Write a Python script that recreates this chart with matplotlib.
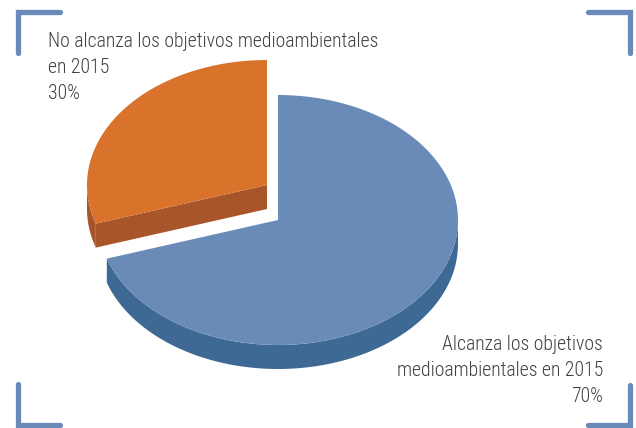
import numpy as np
import matplotlib
matplotlib.use("Agg")
import matplotlib.pyplot as plt

# data
labels = ["Alcanza los objetivos\nmedioambientales en 2015",
          "No alcanza los objetivos medioambientales\nen 2015"]
values = [70, 30]
top_colors = ["#6A8BB7", "#D9732B"]
side_colors = ["#3E6994", "#A9552A"]

# geometry of the fake 3d pie (pixel units)
cx, cy = 278, 220
rx, ry = 180, 125
depth = 24
explode = [(0, 0), (-11, -35)]
start = 90

W, H = 636, 428
fig = plt.figure(figsize=(W / 100, H / 100), dpi=100)
ax = fig.add_axes([0, 0, 1, 1])
ax.set_xlim(0, W)
ax.set_ylim(H, 0)
ax.axis("off")


def rim(a0, a1, ox, oy, n=120, dz=0):
    t = np.radians(np.linspace(a0, a1, n))
    return cx + ox + rx * np.cos(t), cy + oy - ry * np.sin(t) + dz


# slice angle ranges (clockwise from 12 o'clock)
total = float(sum(values))
ranges = []
a = start
for v in values:
    span = 360 * v / total
    ranges.append((a - span, a))
    a -= span

# draw the exploded (back) slice first
for i in [1, 0]:
    lo, hi = ranges[i]
    ox, oy = explode[i]
    # radial faces that look towards the viewer
    for ang, nrm in [(lo, lo - 90), (hi, hi + 90)]:
        if np.sin(np.radians(nrm)) < -1e-6:
            px, py = rim(ang, ang, ox, oy, n=1)
            xs = [cx + ox, px[0], px[0], cx + ox]
            ys = [cy + oy, py[0], py[0] + depth, cy + oy + depth]
            ax.fill(xs, ys, color=side_colors[i], lw=0)
    # front rim (angles between 180 and 360 modulo 360)
    for k in range(-1, 2):
        f0, f1 = max(lo, 180 + 360 * k), min(hi, 360 + 360 * k)
        if f1 > f0:
            x1, y1 = rim(f0, f1, ox, oy)
            x2, y2 = rim(f0, f1, ox, oy, dz=depth)
            ax.fill(np.r_[x1, x2[::-1]], np.r_[y1, y2[::-1]],
                    color=side_colors[i], lw=0)
    # top face
    x1, y1 = rim(lo, hi, ox, oy)
    ax.fill(np.r_[cx + ox, x1], np.r_[cy + oy, y1], color=top_colors[i], lw=0)

# labels
font = dict(family=["Roboto Condensed", "Roboto"], fontweight="light",
            fontsize=14.2, color="#404040")
step = 26
lab_pos = [(603, 350, "right"), (48, 47, "left")]
for i in range(len(values)):
    lines = labels[i].split("\n") + [f"{values[i]}%"]
    x0, y0, ha = lab_pos[i]
    for j, line in enumerate(lines):
        ax.text(x0, y0 + j * step, line, ha=ha, va="baseline", **font)

# corner brackets
bc = "#6A8BBA"
kw = dict(color=bc, lw=3.8, solid_capstyle="round", solid_joinstyle="miter")
ax.plot([18, 18, 60], [53, 12, 12], **kw)
ax.plot([588, 630, 630], [12, 12, 53], **kw)
ax.plot([18, 18, 60], [384, 425, 425], **kw)
ax.plot([588, 630, 630], [425, 425, 385], **kw)

fig.savefig("out.png", dpi=100)
